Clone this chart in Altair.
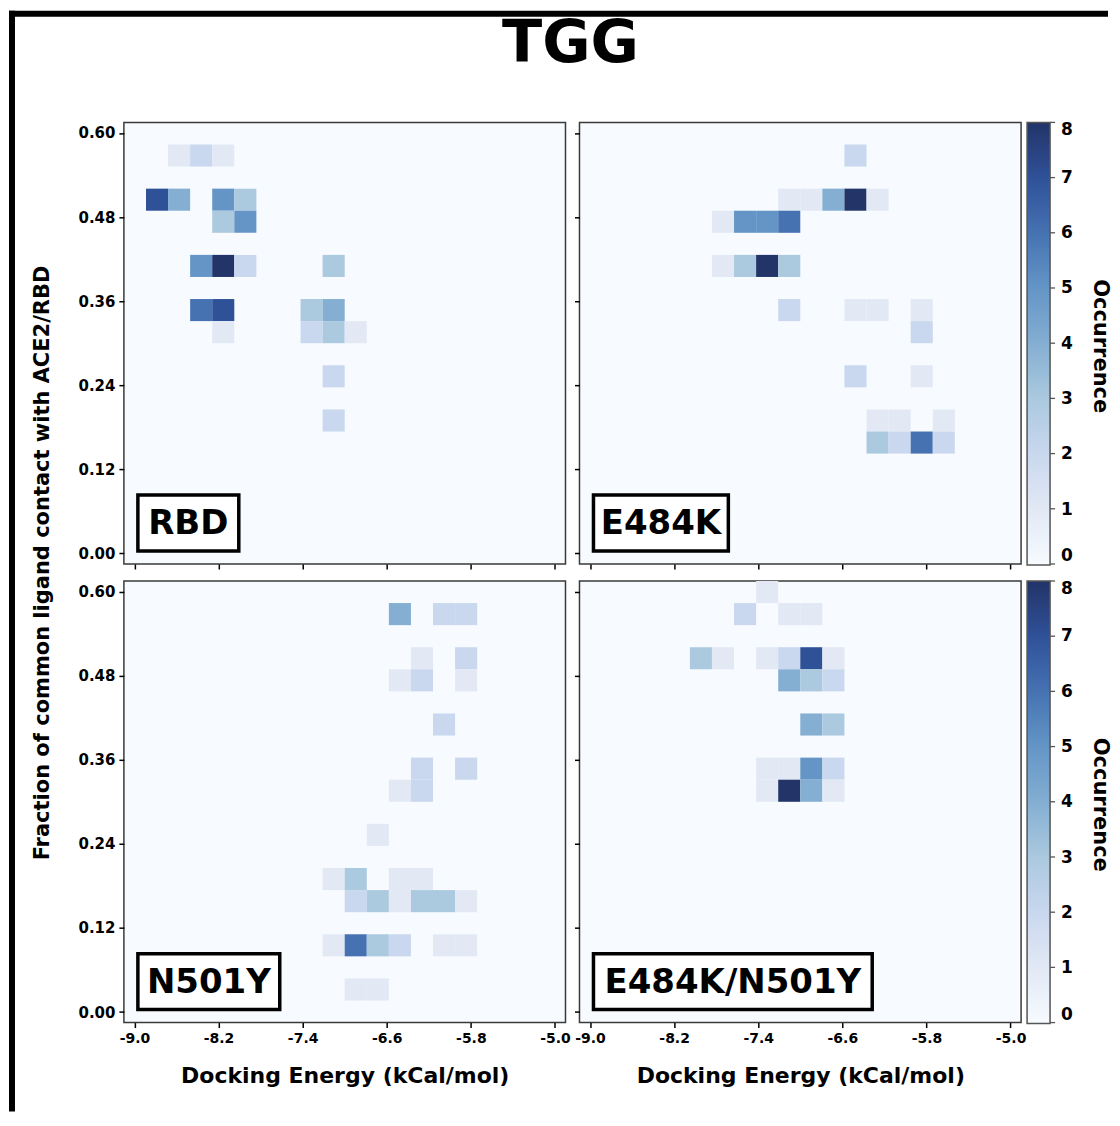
import altair as alt
import pandas as pd
import numpy as np

FONT = "DejaVu Sans"

# ---- bin grid (20 x 20 histogram) ----
x_edges = np.linspace(-9.1, -4.9, 21)      # docking energy bins
y_edges = np.linspace(-0.015, 0.615, 21)   # fraction bins
x_ticks = [-9.0, -8.2, -7.4, -6.6, -5.8, -5.0]
y_ticks = [0.0, 0.12, 0.24, 0.36, 0.48, 0.60]
c_ticks = [0, 1, 2, 3, 4, 5, 6, 7, 8]
c_colors = ["#f7fbff", "#e2e9f5", "#c9d8ee", "#abc9df", "#84aed2",
            "#6495c6", "#4672b2", "#2f5198", "#223468"]

# ---- counts per panel: x-bin index, y-bin index, occurrence ----
rbd_xi = [2, 3, 4, 1, 2, 4, 5, 4, 5, 3, 4, 5, 9, 3, 4, 8, 9, 4, 8, 9, 10, 9, 9]
rbd_yj = [18, 18, 18, 16, 16, 16, 16, 15, 15, 13, 13, 13, 13, 11, 11, 11, 11, 10, 10, 10, 10, 8, 6]
rbd_n = [1, 2, 1, 7, 4, 5, 3, 3, 5, 5, 8, 2, 3, 6, 7, 3, 4, 1, 2, 3, 1, 2, 2]

e484k_xi = [12, 9, 10, 11, 12, 13, 6, 7, 8, 9, 6, 7, 8, 9, 9, 12, 13, 15, 15, 12, 15, 13, 14, 16, 13, 14, 15, 16]
e484k_yj = [18, 16, 16, 16, 16, 16, 15, 15, 15, 15, 13, 13, 13, 13, 11, 11, 11, 11, 10, 8, 8, 6, 6, 6, 5, 5, 5, 5]
e484k_n = [2, 1, 1, 4, 8, 1, 1, 5, 5, 6, 1, 3, 8, 3, 2, 1, 1, 1, 2, 2, 1, 1, 1, 1, 3, 2, 6, 2]

n501y_xi = [12, 14, 15, 13, 15, 12, 13, 15, 14, 13, 15, 12, 13, 11, 9, 10, 12, 13,
            10, 11, 12, 13, 14, 15, 9, 10, 11, 12, 14, 15, 10, 11]
n501y_yj = [18, 18, 18, 16, 16, 15, 15, 15, 13, 11, 11, 10, 10, 8, 6, 6, 6, 6,
            5, 5, 5, 5, 5, 5, 3, 3, 3, 3, 3, 3, 1, 1]
n501y_n = [4, 2, 2, 1, 2, 1, 2, 1, 2, 2, 2, 1, 2, 1, 1, 3, 1, 1,
           2, 3, 1, 3, 3, 1, 1, 6, 3, 2, 1, 1, 1, 1]

dbl_xi = [8, 7, 9, 10, 5, 6, 8, 9, 10, 11, 9, 10, 11, 10, 11, 8, 9, 10, 11, 8, 9, 10, 11]
dbl_yj = [19, 18, 18, 18, 16, 16, 16, 16, 16, 16, 15, 15, 15, 13, 13, 11, 11, 11, 11, 10, 10, 10, 10]
dbl_n = [1, 2, 1, 1, 3, 1, 1, 2, 7, 1, 4, 3, 2, 4, 3, 1, 1, 5, 2, 1, 8, 4, 1]

panel_names = ["RBD", "E484K", "N501Y", "E484K/N501Y"]
label_box_w = [101, 135, 142, 279]

W = H = 442
CB_OFF, CB_THICK = 6, 23


def panel_df(xi, yj, n):
    xi = np.array(xi)
    yj = np.array(yj)
    return pd.DataFrame({
        "e0": x_edges[xi], "e1": x_edges[xi + 1],
        "f0": y_edges[yj], "f1": y_edges[yj + 1],
        "n": n,
    })


xscale = alt.Scale(domain=[-9.1, -4.9], nice=False, zero=False)
yscale = alt.Scale(domain=[-0.015, 0.615], nice=False, zero=False)
cscale = alt.Scale(domain=c_ticks, range=c_colors)


def make_panel(df, name, box_w, bottom, left, legend):
    xaxis = alt.Axis(values=x_ticks, labels=bottom, labelFontSize=14,
                     labelExpr="replace(format(datum.value, '.1f'), '\u2212', '-')",
                     grid=False)
    yaxis = alt.Axis(values=y_ticks, labels=left, format=".2f", grid=False)
    if legend:
        leg = alt.Legend(title=None, orient="right", direction="vertical",
                         gradientLength=443, gradientThickness=CB_THICK,
                         gradientStrokeColor="#555555", gradientStrokeWidth=1.5,
                         values=c_ticks, labelFont=FONT, labelFontSize=17,
                         labelFontWeight="bold", labelColor="black",
                         labelBaseline="middle",
                         labelOffset=11, offset=CB_OFF, padding=0)
    else:
        leg = None
    rect = alt.Chart(df).mark_rect().encode(
        x=alt.X("e0:Q", scale=xscale, axis=xaxis,
                title="Docking Energy (kCal/mol)" if bottom else None),
        x2="e1:Q",
        y=alt.Y("f0:Q", scale=yscale, axis=yaxis, title=None),
        y2="f1:Q",
        color=alt.Color("n:Q", scale=cscale, legend=leg),
    )
    lab = pd.DataFrame({"t": [name]})
    box = alt.Chart(lab).mark_rect(fill="white", stroke="black", strokeWidth=3.5).encode(
        x=alt.value(14), x2=alt.value(14 + box_w), y=alt.value(373), y2=alt.value(429))
    txt = alt.Chart(lab).mark_text(font=FONT, fontSize=34, fontWeight="bold",
                                   color="black", align="center", baseline="middle").encode(
        text="t:N", x=alt.value(14 + box_w / 2), y=alt.value(402))
    layers = [rect, box, txt]
    if legend:
        occ = alt.Chart(pd.DataFrame({"t": ["Occurrence"]})).mark_text(
            font=FONT, fontSize=21, fontWeight="bold", color="black",
            angle=90, align="center", baseline="middle").encode(
            text="t:N", x=alt.value(521), y=alt.value(224))
        cb_ticks = alt.Chart(pd.DataFrame({"k": c_ticks})).mark_rule(
            color="#555555", strokeWidth=1.3).encode(
            y=alt.Y("k:Q", scale=alt.Scale(domain=[0, 8], nice=False), axis=None),
            x=alt.value(W + CB_OFF + CB_THICK),
            x2=alt.value(W + CB_OFF + CB_THICK + 5))
        layers += [occ, cb_ticks]
        return alt.layer(*layers).resolve_scale(y="independent").properties(width=W, height=H)
    return alt.layer(*layers).properties(width=W, height=H)


p1 = make_panel(panel_df(rbd_xi, rbd_yj, rbd_n), panel_names[0], label_box_w[0], False, True, False)
p2 = make_panel(panel_df(e484k_xi, e484k_yj, e484k_n), panel_names[1], label_box_w[1], False, False, True)
p3 = make_panel(panel_df(n501y_xi, n501y_yj, n501y_n), panel_names[2], label_box_w[2], True, True, False)
p4 = make_panel(panel_df(dbl_xi, dbl_yj, dbl_n), panel_names[3], label_box_w[3], True, False, True)

# figure decorations attached to the first panel
one = pd.DataFrame({"t": ["TGG"]})
frame_left = alt.Chart(one).mark_rect(color="black", strokeWidth=0).encode(
    x=alt.value(-115), x2=alt.value(-109), y=alt.value(-111.7), y2=alt.value(990))
frame_top = alt.Chart(one).mark_rect(color="black", strokeWidth=0).encode(
    x=alt.value(-115), x2=alt.value(985), y=alt.value(-111.7), y2=alt.value(-105.7))
main_title = alt.Chart(one).mark_text(font=FONT, fontSize=59, fontWeight="bold",
                                      color="black", align="center", baseline="alphabetic").encode(
    text="t:N", x=alt.value(447), y=alt.value(-60))
ytitle = alt.Chart(pd.DataFrame({"t": ["Fraction of common ligand contact with ACE2/RBD"]})).mark_text(
    font=FONT, fontSize=21, fontWeight="bold", color="black", angle=270,
    align="center", baseline="middle").encode(text="t:N", x=alt.value(-81), y=alt.value(441))

p1 = alt.layer(p1, frame_left, frame_top, main_title, ytitle)

chart = alt.concat(
    p1, p2, p3, p4, columns=2, spacing={"row": 17, "column": 14}, bounds="flush"
).resolve_scale(color="independent").properties(
    padding={"left": 0, "top": 1, "right": 0, "bottom": 0},
    background="white",
).configure_view(
    fill="#f7fbff", stroke="#3a3a3a", strokeWidth=1.5,
).configure_axis(
    domain=False, tickColor="black", tickSize=5, tickWidth=1.5,
    labelFont=FONT, labelFontSize=15, labelFontWeight="bold", labelColor="black",
    labelPadding=4, titleFont=FONT, titleFontSize=22, titleFontWeight="bold",
    titleColor="black", titlePadding=20,
)

chart.save("out.html", embed_options={"renderer": "svg", "actions": False})
